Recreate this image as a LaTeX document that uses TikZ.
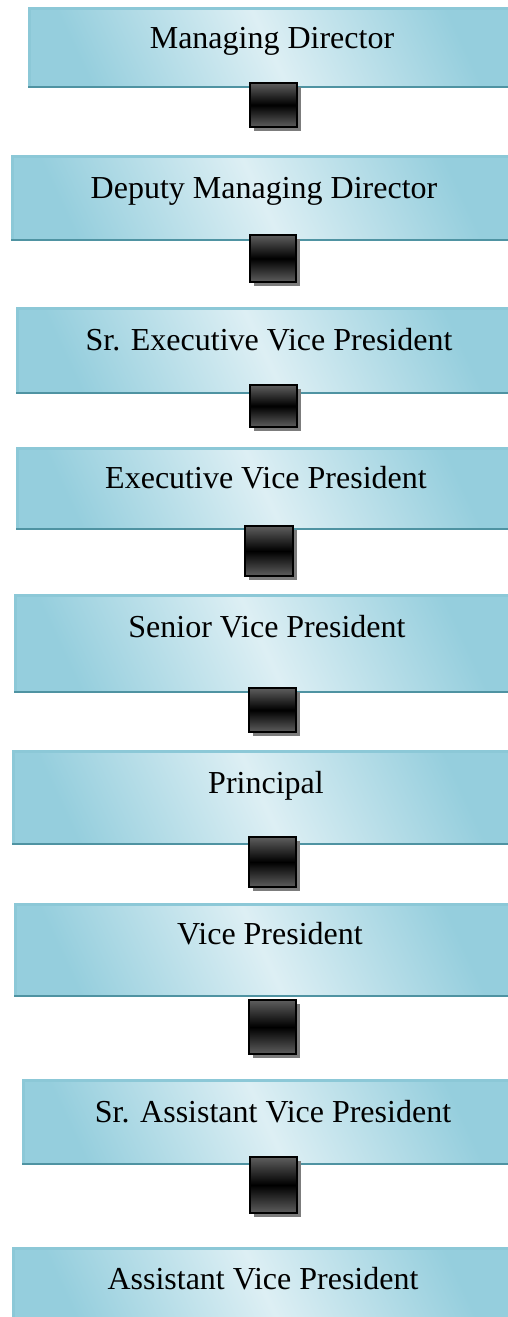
\documentclass[tikz,border=0pt]{standalone}
\usepackage{fontspec}
\setmainfont{Liberation Serif}
\newfontfamily\boxfont{Liberation Serif}
\definecolor{boxedge}{HTML}{95CEDD}
\definecolor{boxmid}{HTML}{DDEFF4}
\definecolor{boxrim}{HTML}{8CC8D7}
\definecolor{boxbase}{HTML}{4F93A2}
\definecolor{sqgrey}{HTML}{5E5E5E}
\definecolor{sqshadow}{HTML}{7C7C7C}
\begin{document}
\begin{tikzpicture}[x=1pt,y=-1pt,
  boxfill/.style={left color=boxedge, right color=boxedge, middle color=boxmid, shading angle=115},
  boxrimstyle/.style={draw=boxrim, line width=2.5pt},
  boxbasestyle/.style={draw=boxbase, line width=1.2pt},
  lbl/.style={anchor=base, inner sep=0pt, font=\boxfont\fontsize{32}{36}\selectfont},
  sqbox/.style={draw=black, line width=2pt, top color=sqgrey, bottom color=sqgrey, middle color=black},
  sqshade/.style={fill=sqshadow}]
\useasboundingbox (0,0) rectangle (508,1317);
% boxes: name, left, top, bottom, text x, baseline, text
\foreach \n/\l/\t/\b/\tx/\bl/\txt in {
  b1/28/7/87/272/48/Managing Director,
  b2/11/155/240/264/198/Deputy Managing Director,
  b3/16/307/393/269/350/Sr. Executive Vice President,
  b4/16/447/529/266/488/Executive Vice President,
  b5/14/594/692/267/637/Senior Vice President,
  b6/12/750/844/266/793/Principal,
  b7/14/903/996/270/944/Vice President,
  b8/22/1079/1164/273/1122/Sr. Assistant Vice President,
  b9/12/1247/1322/263/1289/Assistant Vice President}{
  \path[boxfill] (\l,\t) rectangle (510,\b);
  \draw[boxrimstyle] (\l+1.25,\b-1) -- (\l+1.25,\t+1.25) -- (510,\t+1.25);
  \draw[boxbasestyle] (\l,\b) -- (510,\b);
  \node[lbl] (\n) at (\tx,\bl) {\txt};
}
% connector squares: name, left, top, right, bottom
\foreach \n/\l/\t/\r/\b in {
  s1/250/83/297/127,
  s2/250/235/296/282,
  s3/250/385/297/427,
  s4/245/526/293/576,
  s5/249/688/296/732,
  s6/249/837/296/887,
  s7/249/1000/296/1054,
  s8/250/1157/297/1213}{
  \fill[sqshade] (\l+4,\t+4) rectangle (\r+4,\b+4);
  \path[sqbox] (\l,\t) rectangle (\r,\b);
  \coordinate (\n) at ({(\l+\r)/2},{(\t+\b)/2});
}
\end{tikzpicture}
\end{document}
